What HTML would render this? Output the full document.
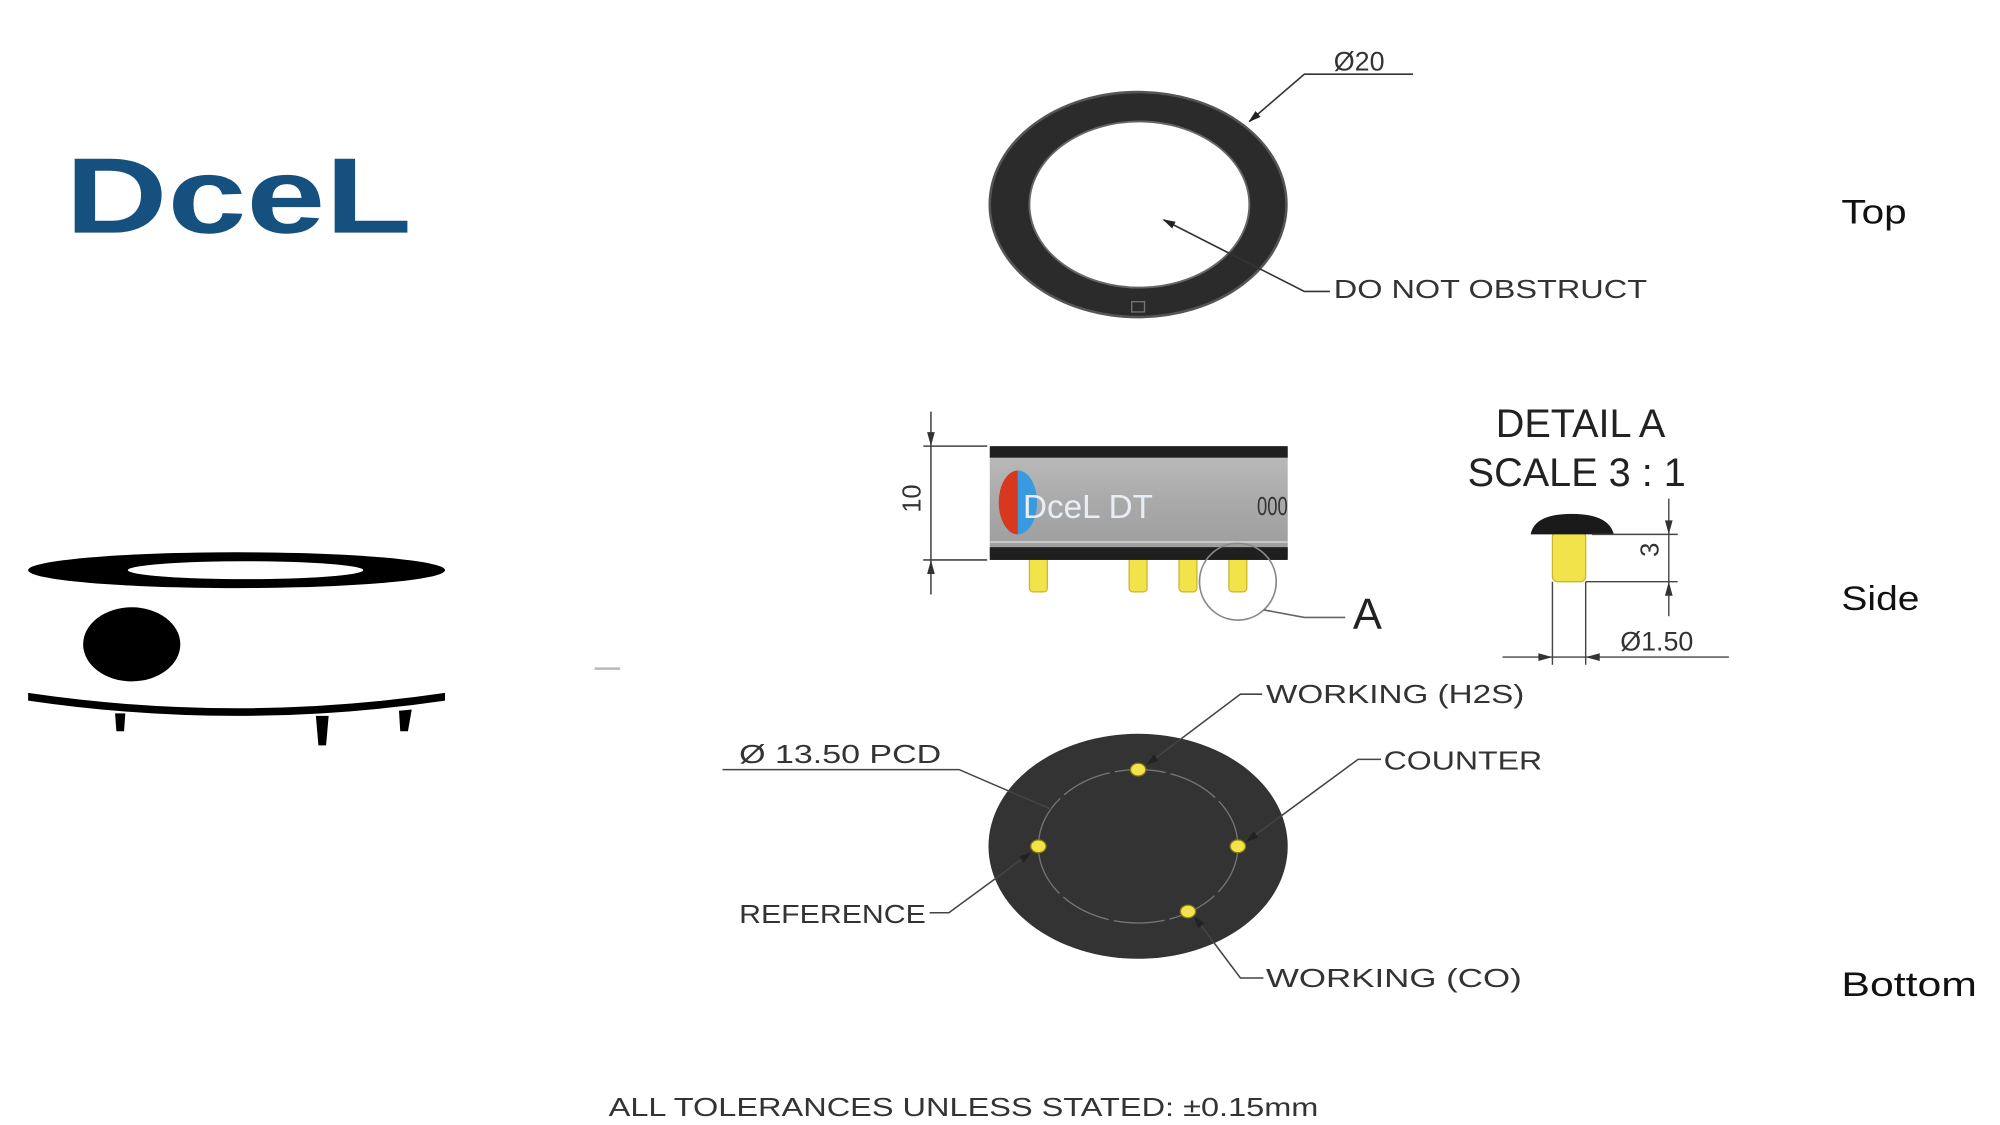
<!DOCTYPE html>
<html><head><meta charset="utf-8"><style>
html,body{margin:0;padding:0;background:#fff;width:2000px;height:1125px;overflow:hidden}
svg{display:block}
text{font-family:"Liberation Sans",sans-serif}
</style></head><body>
<svg width="2000" height="1125" viewBox="0 0 1564 880" preserveAspectRatio="none" xmlns="http://www.w3.org/2000/svg">
<defs>
<marker id="ar" markerWidth="10" markerHeight="8" refX="9" refY="4" orient="auto" markerUnits="userSpaceOnUse"><path d="M0,1 L10,4 L0,7z" fill="#222"/></marker>
<linearGradient id="bg" x1="0" y1="0" x2="0" y2="1"><stop offset="0" stop-color="#bdbdbd"/><stop offset="0.5" stop-color="#a9a9a9"/><stop offset="1" stop-color="#9c9c9c"/></linearGradient>
</defs>
<!-- Logo -->
<text x="51" y="182" font-size="84" font-weight="bold" fill="#15507f" textLength="271" lengthAdjust="spacingAndGlyphs">DceL</text>
<!-- Left sensor icon -->
<ellipse cx="185" cy="446" rx="163" ry="14" fill="#000"/>
<ellipse cx="192" cy="446" rx="92" ry="7" fill="#fff"/>
<ellipse cx="103" cy="504" rx="38" ry="29" fill="#000"/>
<path d="M22,542 Q185,566 348,542 L348,548 Q185,572 22,548z" fill="#000"/>
<path d="M90,558 L98,558 L97,572 L91,572z M247,560 L257,560 L255,583 L249,583z M312,556 L322,555 L319,572 L313,572z" fill="#000"/>
<rect x="465" y="522" width="20" height="2" fill="#bbb"/>
<!-- Top view -->
<ellipse cx="890" cy="160" rx="116" ry="88" fill="#2b2b2b" stroke="#555" stroke-width="2"/>
<ellipse cx="891" cy="160" rx="86" ry="65" fill="#fff" stroke="#666" stroke-width="1.5"/>
<rect x="885" y="236" width="10" height="8" fill="none" stroke="#777" stroke-width="1"/>
<path d="M1105,58 L1020,58 L977,95" fill="none" stroke="#333" stroke-width="1.3" marker-end="url(#ar)"/>
<text x="1043" y="55" font-size="21" fill="#333">Ø20</text>
<path d="M1040,228 L1020,228 L910,172" fill="none" stroke="#333" stroke-width="1.3" marker-end="url(#ar)"/>
<text x="1043" y="233" font-size="20" fill="#333" textLength="245" lengthAdjust="spacingAndGlyphs">DO NOT OBSTRUCT</text>
<text x="1440" y="175" font-size="27" fill="#111" textLength="51" lengthAdjust="spacingAndGlyphs">Top</text>
<text x="1440" y="477" font-size="27" fill="#111" textLength="61" lengthAdjust="spacingAndGlyphs">Side</text>
<text x="1440" y="779" font-size="27" fill="#111" textLength="106" lengthAdjust="spacingAndGlyphs">Bottom</text>
<!-- Side view -->
<g fill="#f3e34a" stroke="#c9b62c" stroke-width="1">
<rect x="805" y="436" width="14" height="27" rx="3"/><rect x="883" y="436" width="14" height="27" rx="3"/><rect x="922" y="436" width="14" height="27" rx="3"/><rect x="961" y="436" width="14" height="27" rx="3"/>
</g>
<rect x="774" y="349" width="233" height="89" rx="3" fill="url(#bg)"/>
<rect x="774" y="349" width="233" height="9" fill="#1f1f1f"/>
<rect x="774" y="428" width="233" height="10" fill="#1f1f1f"/>
<line x1="774" y1="424" x2="1007" y2="424" stroke="#e0e0e0" stroke-width="1"/>
<path d="M796,368 A15,25 0 0 0 796,418z" fill="#d8381e"/>
<path d="M796,368 A15,25 0 0 1 796,418z" fill="#3a9ae0"/>
<text x="800" y="405" font-size="26" fill="#e8eef5">DceL DT</text>
<text x="983" y="403" font-size="20" fill="#333" textLength="24" lengthAdjust="spacingAndGlyphs">000</text>
<g stroke="#444" stroke-width="1.2" fill="none">
<line x1="728" y1="322" x2="728" y2="465"/>
<line x1="722" y1="349" x2="772" y2="349"/><line x1="722" y1="438" x2="772" y2="438"/>
</g>
<path d="M725,338 L728,349 L731,338z M725,449 L728,438 L731,449z" fill="#333"/>
<text transform="translate(720,390) rotate(-90)" font-size="20" fill="#333" text-anchor="middle">10</text>
<circle cx="968" cy="455" r="30" fill="none" stroke="#888" stroke-width="1.3"/>
<path d="M988,477 L1020,483 L1052,483" fill="none" stroke="#666" stroke-width="1.3"/>
<text x="1058" y="492" font-size="34" fill="#222">A</text>
<text x="1236" y="342" font-size="31" fill="#222" text-anchor="middle">DETAIL A</text>
<text x="1233" y="380" font-size="31" fill="#222" text-anchor="middle">SCALE 3 : 1</text>
<!-- Detail pin -->
<rect x="1214" y="416" width="26" height="39" rx="4" fill="#f3e34a" stroke="#c9b62c"/>
<path d="M1197,418 Q1200,402 1229,402 Q1258,402 1262,418z" fill="#1a1a1a"/>
<g stroke="#444" stroke-width="1.1" fill="none">
<line x1="1245" y1="418" x2="1312" y2="418"/><line x1="1240" y1="455" x2="1312" y2="455"/>
<line x1="1305" y1="390" x2="1305" y2="482"/>
<line x1="1214" y1="455" x2="1214" y2="520"/><line x1="1240" y1="455" x2="1240" y2="520"/>
<line x1="1175" y1="514" x2="1352" y2="514"/>
</g>
<path d="M1302,407 L1305,418 L1308,407z M1302,466 L1305,455 L1308,466z M1203,511 L1214,514 L1203,517z M1251,511 L1240,514 L1251,517z" fill="#333"/>
<text transform="translate(1297,430) rotate(-90)" font-size="20" fill="#333" text-anchor="middle">3</text>
<text x="1267" y="509" font-size="21" fill="#333">Ø1.50</text>
<!-- Bottom view -->
<ellipse cx="890" cy="662" rx="117" ry="88" fill="#333"/>
<ellipse cx="890" cy="662" rx="78" ry="60" fill="none" stroke="#777" stroke-width="1" stroke-dasharray="40,4"/>
<g fill="#f3e34a" stroke="#8a7a10" stroke-width="1">
<ellipse cx="890" cy="602" rx="6" ry="5"/><ellipse cx="812" cy="662" rx="6" ry="5"/><ellipse cx="968" cy="662" rx="6" ry="5"/><ellipse cx="929" cy="713" rx="6" ry="5"/>
</g>
<g fill="none" stroke="#444" stroke-width="1.2">
<path d="M987,543 L970,543 L897,598" marker-end="url(#ar)"/>
<path d="M1080,594 L1062,594 L975,658" marker-end="url(#ar)"/>
<path d="M565,602 L750,602 L822,633"/>
<path d="M727,714 L742,714 L806,667" marker-end="url(#ar)"/>
<path d="M988,765 L970,765 L934,717" marker-end="url(#ar)"/>
</g>
<g font-size="20" fill="#333">
<text x="990" y="550" textLength="202" lengthAdjust="spacingAndGlyphs">WORKING (H2S)</text>
<text x="1082" y="602" textLength="124" lengthAdjust="spacingAndGlyphs">COUNTER</text>
<text x="578" y="597" textLength="158" lengthAdjust="spacingAndGlyphs">Ø 13.50 PCD</text>
<text x="578" y="722" textLength="146" lengthAdjust="spacingAndGlyphs">REFERENCE</text>
<text x="990" y="772" textLength="200" lengthAdjust="spacingAndGlyphs">WORKING (CO)</text>
<text x="476" y="873" textLength="555" lengthAdjust="spacingAndGlyphs">ALL TOLERANCES UNLESS STATED: ±0.15mm</text>
</g>
</svg>
</body></html>
